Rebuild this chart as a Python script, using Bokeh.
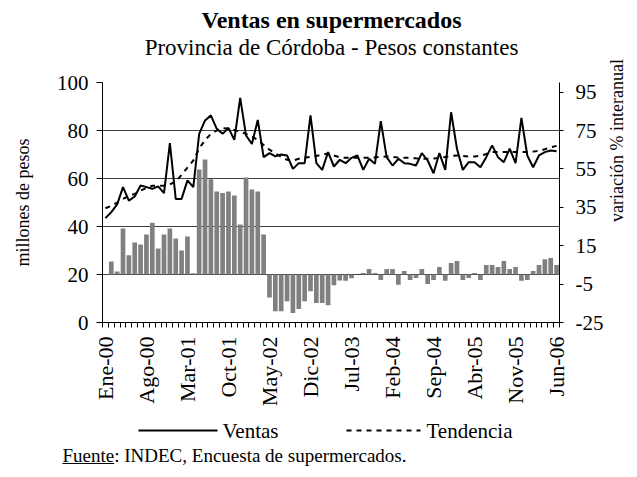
import math
from bokeh.plotting import figure
from bokeh.models import Range1d, LinearAxis, FixedTicker
from bokeh.layouts import column, row
from bokeh.core.properties import value
from bokeh.embed import file_html
from bokeh.resources import INLINE

FONT = "Liberation Serif"

# ---------------- data ----------------
meses = ["Ene-00", "Feb-00", "Mar-00", "Abr-00", "May-00", "Jun-00", "Jul-00", "Ago-00", "Sep-00", "Oct-00", "Nov-00", "Dic-00",
         "Ene-01", "Feb-01", "Mar-01", "Abr-01", "May-01", "Jun-01", "Jul-01", "Ago-01", "Sep-01", "Oct-01", "Nov-01", "Dic-01",
         "Ene-02", "Feb-02", "Mar-02", "Abr-02", "May-02", "Jun-02", "Jul-02", "Ago-02", "Sep-02", "Oct-02", "Nov-02", "Dic-02",
         "Ene-03", "Feb-03", "Mar-03", "Abr-03", "May-03", "Jun-03", "Jul-03", "Ago-03", "Sep-03", "Oct-03", "Nov-03", "Dic-03",
         "Ene-04", "Feb-04", "Mar-04", "Abr-04", "May-04", "Jun-04", "Jul-04", "Ago-04", "Sep-04", "Oct-04", "Nov-04", "Dic-04",
         "Ene-05", "Feb-05", "Mar-05", "Abr-05", "May-05", "Jun-05", "Jul-05", "Ago-05", "Sep-05", "Oct-05", "Nov-05", "Dic-05",
         "Ene-06", "Feb-06", "Mar-06", "Abr-06", "May-06", "Jun-06"]

tick_labels = ["Ene-00", "Ago-00", "Mar-01", "Oct-01", "May-02", "Dic-02",
               "Jul-03", "Feb-04", "Sep-04", "Abr-05", "Nov-05", "Jun-06"]

ventas = [43.5, 46.0, 49.2, 56.4, 50.8, 52.5, 57.1, 56.4, 55.7, 56.7,
          53.9, 74.7, 51.5, 51.5, 59.2, 56.4, 78.6, 84.2, 86.3, 80.7,
          78.6, 81.1, 76.1, 93.6, 77.9, 74.4, 84.4, 68.9, 70.6, 69.2,
          70.0, 69.6, 64.0, 66.4, 66.4, 86.3, 66.4, 63.6, 71.0, 65.0,
          67.8, 66.4, 68.6, 69.6, 63.6, 68.2, 66.1, 83.9, 68.9, 65.4,
          68.2, 66.4, 66.1, 65.4, 70.6, 67.5, 62.2, 70.6, 63.6, 87.6,
          72.4, 63.6, 66.8, 66.8, 64.7, 68.9, 73.8, 68.9, 66.8, 72.4,
          66.4, 85.3, 69.6, 64.7, 69.6, 71.0, 71.7, 71.4]

tendencia = [47.6, 48.6, 50.0, 51.5, 52.8, 53.6, 55.0, 56.0, 57.0, 57.0,
             57.0, 57.5, 58.8, 61.5, 64.5, 67.5, 72.5, 76.0, 78.6, 80.0,
             81.0, 80.8, 80.2, 79.5, 78.6, 77.5, 76.0, 74.0, 72.0, 70.5,
             69.0, 67.8, 67.5, 68.2, 68.6, 69.0, 69.4, 70.0, 70.4, 69.6,
             68.8, 68.6, 68.6, 68.6, 68.6, 68.6, 68.8, 69.0, 69.2, 69.0,
             68.7, 68.6, 68.6, 68.4, 68.3, 68.2, 68.3, 68.6, 69.0, 69.4,
             69.6, 69.4, 69.2, 69.2, 69.5, 70.2, 71.0, 71.0, 71.0, 71.0,
             71.0, 71.0, 71.0, 71.2, 71.5, 72.2, 73.0, 73.6]

# variacion % interanual (first month has no value)
variacion = [None, 6.8, 1.6, 24.0, 10.0, 16.7, 15.6, 20.8, 27.0, 13.5,
             20.8, 24.0, 18.7, 12.5, 19.8, 0.7, 54.7, 59.9, 49.6, 43.2,
             42.5, 43.2, 41.1, 26.0, 50.5, 44.3, 43.2, 20.8, -12.0, -19.1,
             -19.1, -13.9, -20.1, -18.0, -13.9, -8.7, -14.9, -14.9, -16.0, -5.6,
             -3.1, -3.3, -1.9, 0.0, 0.8, 2.8, 0.8, -2.8, 2.8, 2.8,
             -5.4, 1.8, -2.8, -1.8, 2.8, -4.9, -2.8, 3.9, -3.3, 6.0,
             7.0, -2.8, -1.8, 0.8, -2.8, 4.9, 4.9, 3.9, 7.0, 2.8,
             3.9, -3.3, -2.8, 1.8, 4.9, 8.0, 8.6, 4.9]

left_ticks = [0, 20, 40, 60, 80, 100]
right_ticks = [-25, -5, 15, 35, 55, 75, 95]

titulo = "Ventas en supermercados"
subtitulo = "Provincia de Córdoba - Pesos constantes"
eje_izq = "millones de pesos"
eje_der = "variación % interanual"
fuente = "Fuente: INDEC, Encuesta de supermercados."
serie_labels = ["Ventas", "Tendencia"]

# ---------------- layout geometry (page pixels, origin at page corner) ----------------
TOTAL_W, TOTAL_H = 636, 476
LW = 40                          # left text strip
RX = 607                         # page x where right strip starts
RW = TOTAL_W - RX
CW = RX - LW                     # central column width
TOP_H, MAIN_H = 68, 344
BOT_H = TOTAL_H - TOP_H - MAIN_H
FL, FR, FT, FB = 62, 48, 14, 90  # main figure borders -> frame x 102..559, y 82..322
CX0 = LW


def text_fig(w, h):
    f = figure(width=w, height=h, x_range=Range1d(0, w), y_range=Range1d(0, h),
               output_backend="svg", toolbar_location=None,
               x_axis_location=None, y_axis_location=None,
               min_border=0, min_border_left=0, min_border_right=0,
               min_border_top=0, min_border_bottom=0)
    f.outline_line_color = None
    f.xgrid.visible = False
    f.ygrid.visible = False
    f.background_fill_color = "white"
    f.border_fill_color = "white"
    return f


def put_text(f, x0, y0, h, px, py, txt, size, **kw):
    f.text(x=[px - x0], y=[(y0 + h) - py], text=[txt], text_font=value(FONT),
           text_font_size=value(size), text_color="black", **kw)


# ---------------- main chart ----------------
n = len(meses)
xs = [i + 0.5 for i in range(n)]

p = figure(width=CW, height=MAIN_H, x_range=Range1d(0, n), y_range=Range1d(0, 100),
           output_backend="svg", toolbar_location=None,
           min_border_left=FL, min_border_right=FR,
           min_border_top=FT, min_border_bottom=FB)
p.outline_line_color = None
p.background_fill_color = "white"
p.border_fill_color = "white"
p.extra_y_ranges = {"var": Range1d(-25, 100)}

bx = [xs[i] for i in range(n) if variacion[i] is not None]
bt = [variacion[i] for i in range(n) if variacion[i] is not None]
p.vbar(x=bx, top=bt, bottom=0, width=0.8, y_range_name="var",
       fill_color="#808080", line_color=None)

p.line(xs, ventas, line_color="black", line_width=2)
p.line(xs, tendencia, line_color="black", line_width=2, line_dash="5 5")

p.xgrid.visible = False
p.ygrid.ticker = FixedTicker(ticks=left_ticks)
p.ygrid.grid_line_color = "#404040"
p.ygrid.grid_line_width = 1

idx = [meses.index(t) for t in tick_labels]
xa = p.xaxis[0]
xa.ticker = FixedTicker(ticks=[i + 0.5 for i in idx], minor_ticks=list(range(0, n + 1)))
xa.major_label_overrides = {i + 0.5: meses[i] for i in idx}
xa.major_label_orientation = math.pi / 2
xa.major_tick_out = 0
xa.major_tick_in = 0
xa.minor_tick_out = 5
xa.minor_tick_in = 0
xa.minor_tick_line_color = "black"
xa.axis_line_color = "black"
xa.major_label_text_font = FONT
xa.major_label_text_font_size = "22px"
xa.major_label_text_color = "black"
xa.major_label_standoff = 9

ya = p.yaxis[0]
ya.ticker = FixedTicker(ticks=left_ticks)
ya.major_tick_out = 6
ya.major_tick_in = 0
ya.minor_tick_out = 0
ya.minor_tick_in = 0
ya.axis_line_color = "black"
ya.major_label_text_font = FONT
ya.major_label_text_font_size = "21px"
ya.major_label_text_color = "black"
ya.major_label_standoff = 8

ra = LinearAxis(y_range_name="var", ticker=FixedTicker(ticks=right_ticks))
ra.major_label_overrides = {t: str(t) for t in right_ticks}
ra.major_tick_out = 4
ra.major_tick_in = 0
ra.minor_tick_out = 0
ra.minor_tick_in = 0
ra.axis_line_color = "black"
ra.major_label_text_font = FONT
ra.major_label_text_font_size = "21px"
ra.major_label_text_color = "black"
ra.major_label_standoff = 12
p.add_layout(ra, "right")

# ---------------- title strip ----------------
top = text_fig(CW, TOP_H)
put_text(top, CX0, 0, TOP_H, 331, 19, titulo, "24px", text_font_style="bold",
         text_align="center", text_baseline="middle")
put_text(top, CX0, 0, TOP_H, 331, 47, subtitulo, "23px",
         text_align="center", text_baseline="middle")

# ---------------- bottom strip: legend + source ----------------
bot_y0 = TOP_H + MAIN_H
bot = text_fig(CW, BOT_H)
ly = 430
by = (bot_y0 + BOT_H) - ly
bot.line(x=[138 - CX0, 217 - CX0], y=[by, by], line_color="black", line_width=2)
put_text(bot, CX0, bot_y0, BOT_H, 222, ly, serie_labels[0], "21px",
         text_align="left", text_baseline="middle")
bot.line(x=[346 - CX0, 420 - CX0], y=[by, by], line_color="black",
         line_width=2, line_dash="5 5")
put_text(bot, CX0, bot_y0, BOT_H, 426, ly, serie_labels[1], "21px",
         text_align="left", text_baseline="middle")

fsz = 19
fy = 455
put_text(bot, CX0, bot_y0, BOT_H, 62, fy, fuente, f"{fsz}px",
         text_align="left", text_baseline="middle")
uy = (bot_y0 + BOT_H) - (fy + 8)
bot.line(x=[62 - CX0, 62 - CX0 + 2.722 * fsz], y=[uy, uy],
         line_color="black", line_width=1)

# ---------------- side strips: axis titles ----------------
left = text_fig(LW, TOTAL_H)
put_text(left, 0, 0, TOTAL_H, 22, 202, eje_izq, "18px", angle=math.pi / 2,
         text_align="center", text_baseline="middle")

right = text_fig(RW, TOTAL_H)
put_text(right, RX, 0, TOTAL_H, 616, 140, eje_der, "18px",
         angle=math.pi / 2, text_align="center", text_baseline="middle")

# wrap the text strips in rows so their frames are not aligned to the chart frame
center = column(row(top, spacing=0), p, row(bot, spacing=0), spacing=0)
layout = row(left, center, right, spacing=0)

open("out.html", "w").write(file_html(layout, INLINE))
